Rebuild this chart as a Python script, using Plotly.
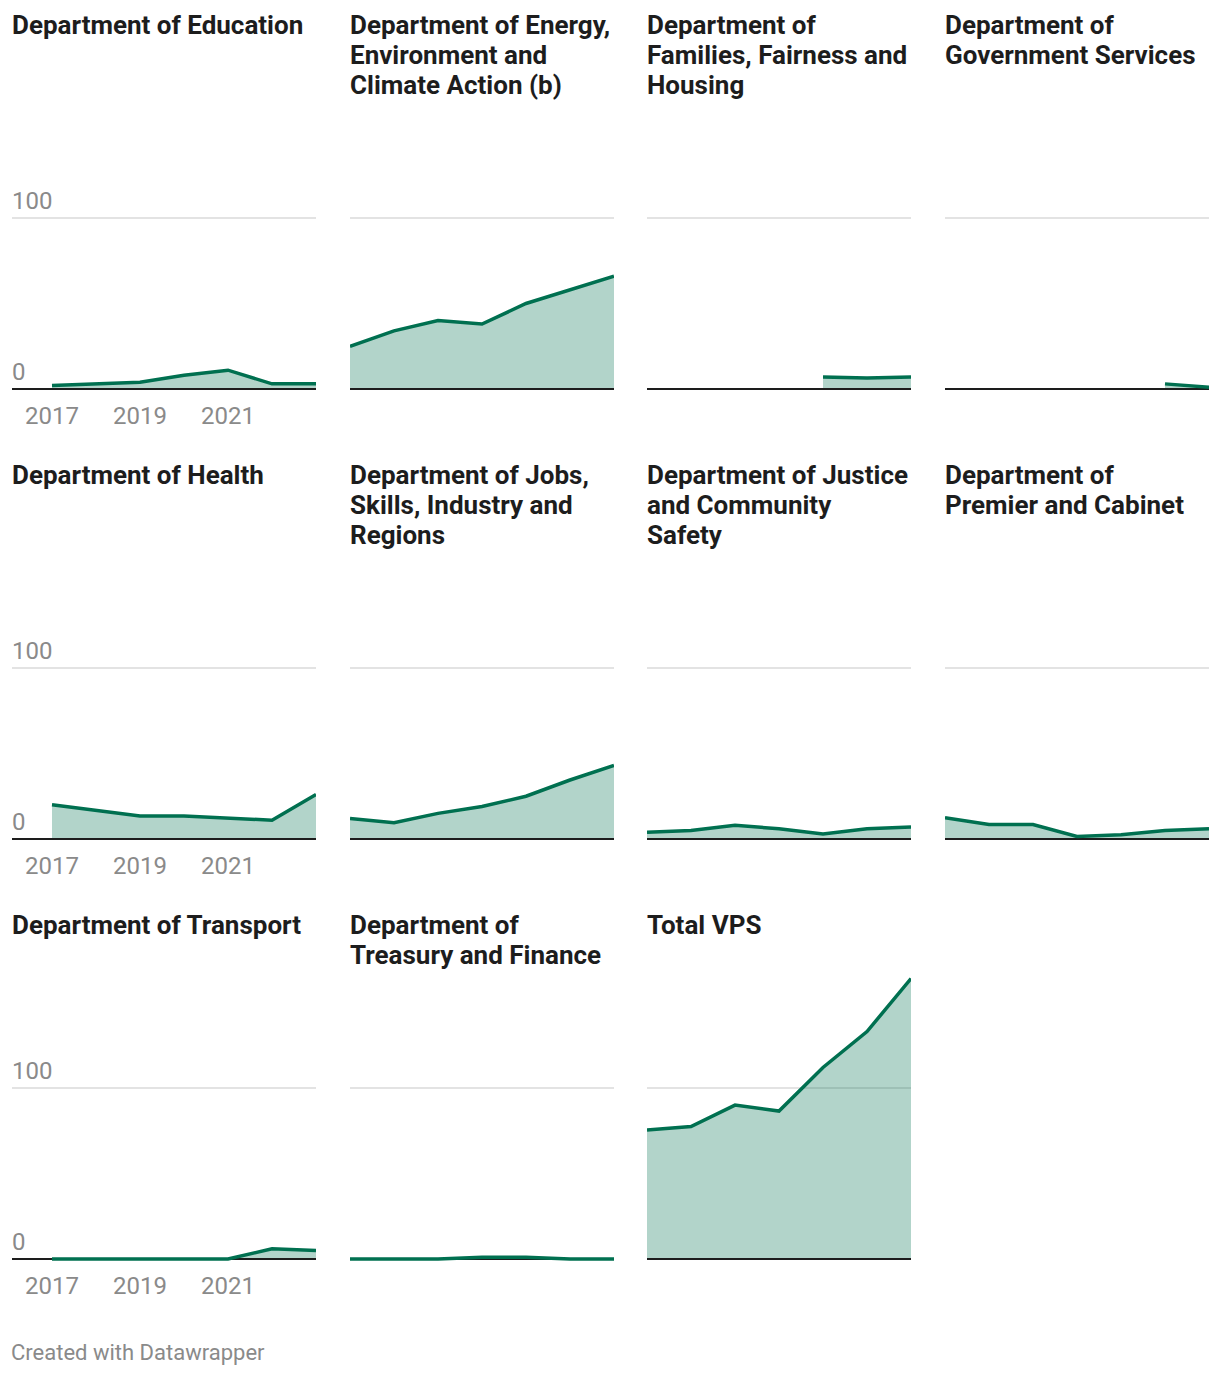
import plotly.graph_objects as go

# ---------------- data ----------------
YEARS = [2017, 2018, 2019, 2020, 2021, 2022, 2023]

TITLES = [
    "Department of Education",
    "Department of Energy,<br>Environment and<br>Climate Action (b)",
    "Department of<br>Families, Fairness and<br>Housing",
    "Department of<br>Government Services",
    "Department of Health",
    "Department of Jobs,<br>Skills, Industry and<br>Regions",
    "Department of Justice<br>and Community<br>Safety",
    "Department of<br>Premier and Cabinet",
    "Department of Transport",
    "Department of<br>Treasury and Finance",
    "Total VPS",
]

EDUCATION = [2, 3, 4, 8, 11, 3, 3]
ENERGY = [25, 34, 40, 38, 50, 58, 66]
FAMILIES = [None, None, None, None, 7, 6.5, 7]
GOV_SERVICES = [None, None, None, None, None, 3, 1]
HEALTH = [20, 17, 13.5, 13.5, 12.5, 11, 26]
JOBS = [12, 9.5, 15, 19, 25, 34.5, 43]
JUSTICE = [4, 5, 8, 6, 3, 6, 7]
PREMIER = [12.5, 8.5, 8.5, 1.5, 2.5, 5, 6]
TRANSPORT = [0, 0, 0, 0, 0, 6, 5]
TREASURY = [0, 0, 0, 1, 1, 0, 0]
TOTAL_VPS = [75.5, 77.5, 90, 86.5, 112, 133, 164]

SERIES = [EDUCATION, ENERGY, FAMILIES, GOV_SERVICES, HEALTH, JOBS,
          JUSTICE, PREMIER, TRANSPORT, TREASURY, TOTAL_VPS]

X_TICKS = [2017, 2019, 2021]
Y_TICKS = [0, 100]
FOOTER = "Created with Datawrapper"

# ---------------- layout geometry (pixels) ----------------
W, H = 1220, 1376
NCOL = 4
COL_DATA_LEFT = [52, 350, 647, 945]
FIRST_COL_AXIS_LEFT = 12
DATA_W = 264
ROW_BASE = [389, 839, 1259]
ROW_TITLE_CENTER = [25, 475, 925]
TITLE_LINE_H = 30
TEXT_PAD = 2
PXU = 1.71               # pixels per unit
Y_RANGE = [-2, 168]

LINE_COLOR = "#007050"
FILL_COLOR = "rgba(0,112,80,0.30)"
GRID_COLOR = "#e3e3e3"
BASE_COLOR = "#1d1d1d"
LABEL_COLOR = "#8a8a8a"
TITLE_COLOR = "#1d1d1d"
FONT = "Roboto"


def fx(p):
    return p / W


def fy(p):
    return 1 - p / H


fig = go.Figure()
annotations = []
layout_axes = {}

px_per_year = DATA_W / (YEARS[-1] - YEARS[0])

for i, (title, vals) in enumerate(zip(TITLES, SERIES)):
    r, c = divmod(i, NCOL)
    n = i + 1
    xa = "x" if n == 1 else f"x{n}"
    ya = "y" if n == 1 else f"y{n}"
    left_px = FIRST_COL_AXIS_LEFT if c == 0 else COL_DATA_LEFT[c]
    right_px = COL_DATA_LEFT[c] + DATA_W
    x0 = YEARS[0] - (COL_DATA_LEFT[c] - left_px) / px_per_year
    xr = [x0, YEARS[-1]]
    base = ROW_BASE[r]
    bottom_px = base + (0 - Y_RANGE[0]) * PXU
    top_px = base - Y_RANGE[1] * PXU

    layout_axes[f"xaxis{'' if n == 1 else n}"] = dict(
        domain=[fx(left_px), fx(right_px)], range=xr, anchor=ya,
        showgrid=False, zeroline=False, showline=False,
        showticklabels=False, ticks="", fixedrange=True)
    layout_axes[f"yaxis{'' if n == 1 else n}"] = dict(
        domain=[fy(bottom_px), fy(top_px)], range=Y_RANGE, anchor=xa,
        tickvals=Y_TICKS, showgrid=True, gridcolor=GRID_COLOR, gridwidth=1.5,
        zeroline=False, showline=False, showticklabels=False, ticks="",
        fixedrange=True)

    # area fill
    fig.add_trace(go.Scatter(x=YEARS, y=vals, xaxis=xa, yaxis=ya, mode="none",
                             fill="tozeroy", fillcolor=FILL_COLOR,
                             hoverinfo="skip", showlegend=False))
    # baseline
    fig.add_trace(go.Scatter(x=xr, y=[Y_TICKS[0], Y_TICKS[0]], xaxis=xa, yaxis=ya,
                             mode="lines", line=dict(color=BASE_COLOR, width=2),
                             hoverinfo="skip", showlegend=False))
    # line
    fig.add_trace(go.Scatter(x=YEARS, y=vals, xaxis=xa, yaxis=ya, mode="lines",
                             line=dict(color=LINE_COLOR, width=3.5),
                             connectgaps=False, showlegend=False,
                             name=title.replace("<br>", " ")))

    # title lines
    for k, line in enumerate(title.split("<br>")):
        annotations.append(dict(
            text=f"<b>{line}</b>", xref="paper", yref="paper",
            x=fx(left_px - TEXT_PAD), y=fy(ROW_TITLE_CENTER[r] + k * TITLE_LINE_H),
            xanchor="left", yanchor="middle", showarrow=False,
            font=dict(family=FONT, size=26, color=TITLE_COLOR)))

    if c == 0:
        for v in Y_TICKS:
            annotations.append(dict(
                text=str(v), xref="paper", yref=ya, x=fx(left_px - TEXT_PAD), y=v,
                xanchor="left", yanchor="bottom", yshift=1, showarrow=False,
                font=dict(family=FONT, size=24, color=LABEL_COLOR)))
        for t in X_TICKS:
            annotations.append(dict(
                text=str(t), xref=xa, yref=ya, x=t, y=0,
                xanchor="center", yanchor="top", yshift=-11, showarrow=False,
                font=dict(family=FONT, size=24, color=LABEL_COLOR)))

annotations.append(dict(
    text=FOOTER, xref="paper", yref="paper", x=fx(11 - TEXT_PAD), y=fy(1352),
    xanchor="left", yanchor="middle", showarrow=False,
    font=dict(family=FONT, size=22, color=LABEL_COLOR)))

fig.update_layout(
    width=W, height=H, margin=dict(l=0, r=0, t=0, b=0),
    paper_bgcolor="white", plot_bgcolor="rgba(0,0,0,0)",
    font=dict(family=FONT), annotations=annotations, showlegend=False,
    **layout_axes)

fig.write_html("out.html", config={"displayModeBar": False},
               post_script="document.body.style.margin='0';")
